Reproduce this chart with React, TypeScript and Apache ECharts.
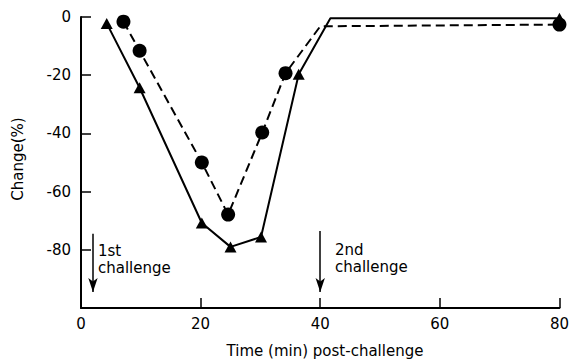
import React, { useEffect, useRef } from "react";
import * as echarts from "echarts";

// Solid line with triangles
const triX = [4.3, 9.8, 20.2, 25, 30.1, 36.4, 41.7, 80];
const triY = [-2.2, -24.3, -70.8, -79, -75.6, -19.7, -0.4, -0.4];
const triMarked = [true, true, true, true, true, true, false, true];

// Dashed line with circles
const cirX = [7.1, 9.8, 20.2, 24.6, 30.3, 34.2, 40, 80];
const cirY = [-1.6, -11.6, -50, -67.9, -39.7, -19.3, -3.2, -2.6];
const cirMarked = [true, true, true, true, true, true, false, true];

const xTicks = [0, 20, 40, 60, 80];
const yTicks = [-80, -60, -40, -20, 0];

// Challenge arrows (x in minutes, from y to y)
const arrowX = [2, 40];
const arrowFrom = [-74.5, -73.5];
const arrowTo = [-94.5, -94.5];

const FONT = "DejaVu Sans";

export default function App() {
  const ref = useRef<HTMLDivElement>(null);
  useEffect(() => {
    if (!ref.current) return;
    const chart = echarts.init(ref.current, undefined, { renderer: "svg" });
    const mk = (xs: number[], ys: number[], marked: boolean[]) =>
      xs.map((x, i) => (marked[i] ? { value: [x, ys[i]] } : { value: [x, ys[i]], symbol: "none" }));
    chart.setOption({
      animation: false,
      backgroundColor: "#fff",
      grid: { left: 81, right: 12, top: 17, bottom: 55 },
      xAxis: {
        type: "value",
        min: 0,
        max: 80,
        interval: 20,
        axisLine: { show: true, onZero: false, lineStyle: { color: "#000", width: 2 } },
        axisTick: { show: true, inside: true, length: 10, lineStyle: { color: "#000", width: 1.5 }, customValues: [20, 40, 60, 80] },
        axisLabel: { color: "#000", fontSize: 15, fontFamily: FONT, margin: 8, customValues: xTicks },
        splitLine: { show: false },
      },
      yAxis: {
        type: "value",
        min: -100,
        max: 0,
        interval: 20,
        axisLine: { show: true, onZero: false, lineStyle: { color: "#000", width: 2 } },
        axisTick: { show: true, inside: true, length: 10, lineStyle: { color: "#000", width: 1.5 }, customValues: yTicks },
        axisLabel: { color: "#000", fontSize: 15, fontFamily: FONT, margin: 10, customValues: yTicks, formatter: (v: number) => String(v) },
        splitLine: { show: false },
      },
      series: [
        {
          type: "line",
          data: mk(triX, triY, triMarked),
          symbol: "triangle",
          symbolSize: [12, 11],
          itemStyle: { color: "#000" },
          lineStyle: { color: "#000", width: 2 },
          z: 3,
        },
        {
          type: "line",
          data: mk(cirX, cirY, cirMarked),
          symbol: "circle",
          symbolSize: 14,
          itemStyle: { color: "#000" },
          lineStyle: { color: "#000", width: 2, type: [9, 5] },
          z: 3,
        },
        {
          type: "line",
          data: [],
          markLine: {
            silent: true,
            symbol: ["none", "arrow"],
            symbolSize: [7, 14],
            label: { show: false },
            lineStyle: { color: "#000", width: 1.5, type: "solid" },
            data: arrowX.map((x, i) => [{ coord: [x, arrowFrom[i]] }, { coord: [x, arrowTo[i]] }]),
          },
        },
      ],
      graphic: [
        { type: "text", left: 98, top: 243, style: { text: "1st", fontSize: 15, fontFamily: FONT, fill: "#000" } },
        { type: "text", left: 98, top: 260, style: { text: "challenge", fontSize: 15, fontFamily: FONT, fill: "#000" } },
        { type: "text", left: 335, top: 242, style: { text: "2nd", fontSize: 15, fontFamily: FONT, fill: "#000" } },
        { type: "text", left: 335, top: 259, style: { text: "challenge", fontSize: 15, fontFamily: FONT, fill: "#000" } },
        {
          type: "text",
          x: 325,
          y: 351,
          style: { text: "Time (min) post-challenge", fontSize: 15, fontFamily: FONT, fill: "#000", align: "center", verticalAlign: "middle" },
        },
        {
          type: "text",
          x: 18,
          y: 159,
          rotation: Math.PI / 2,
          style: { text: "Change(%)", fontSize: 15, fontFamily: FONT, fill: "#000", align: "center", verticalAlign: "middle" },
        },
      ],
    });
    return () => chart.dispose();
  }, []);
  return <div ref={ref} style={{ position: "fixed", left: 0, top: 0, width: 572, height: 363 }} />;
}
